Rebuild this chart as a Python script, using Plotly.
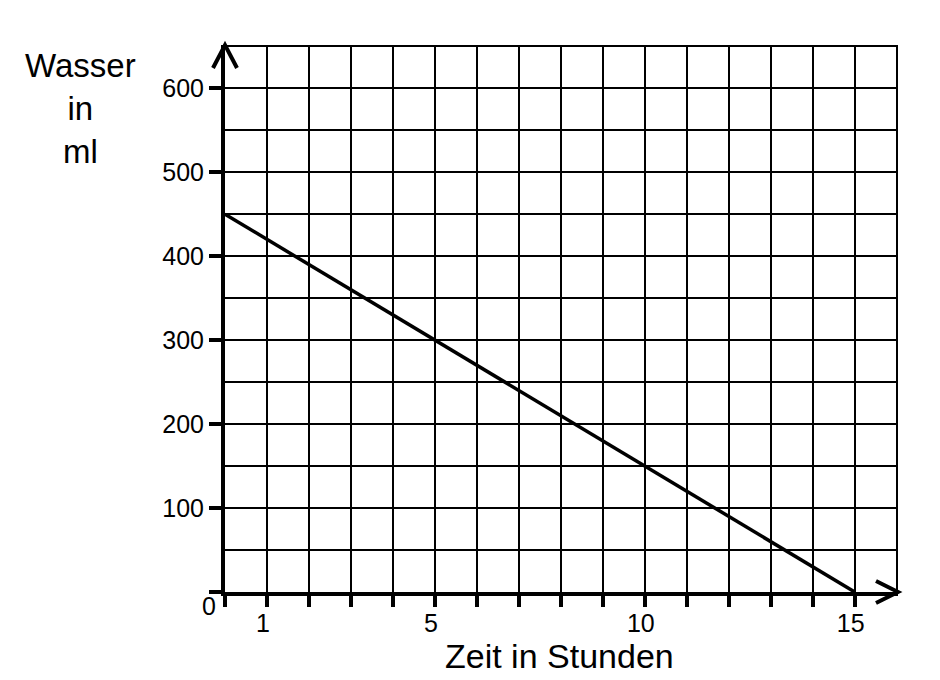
import plotly.graph_objects as go

# Werte aus dem Diagramm
zeit = [0, 5, 10, 15]
wasser = [450, 300, 150, 0]

x_ticks = list(range(0, 16))
x_labels = [str(v) if v in (1, 5, 10, 15) else "" for v in x_ticks]
y_ticks = [0, 100, 200, 300, 400, 500, 600]
y_labels = ["", "100", "200", "300", "400", "500", "600"]
grid_x = list(range(0, 17))
grid_y = list(range(0, 651, 50))

schrift = "Arial, Liberation Sans, sans-serif"

fig = go.Figure()

fig.add_trace(go.Scatter(x=zeit, y=wasser, mode="lines",
                         line=dict(color="black", width=3.5),
                         showlegend=False, hoverinfo="skip"))

fig.update_layout(
    width=940, height=680,
    margin=dict(l=225, r=42, t=45, b=88),
    plot_bgcolor="white", paper_bgcolor="white",
    font=dict(family=schrift, color="black", size=25),
    xaxis=dict(
        range=[0, 16.03], automargin=False,
        tickmode="array", tickvals=x_ticks, ticktext=x_labels,
        ticks="outside", ticklen=11, tickwidth=4, tickcolor="black",
        ticklabelshift=-4, ticklabelstandoff=-5,
        showgrid=False, zeroline=False,
        showline=True, linewidth=4, linecolor="black",
        minor=dict(tickvals=grid_x, showgrid=True, gridcolor="black", gridwidth=2, ticks=""),
    ),
    yaxis=dict(
        range=[0, 651.5], automargin=False,
        tickmode="array", tickvals=y_ticks, ticktext=y_labels,
        ticks="outside", ticklen=12, tickwidth=4, tickcolor="black",
        showgrid=False, zeroline=False,
        showline=True, linewidth=4, linecolor="black",
        minor=dict(tickvals=grid_y, showgrid=True, gridcolor="black", gridwidth=2, ticks=""),
    ),
)

# Null am Ursprung
fig.add_annotation(x=0, y=0, text="0", showarrow=False, xshift=-16, yshift=-14,
                   font=dict(size=25))

# Achsentitel
fig.add_annotation(xref="paper", yref="paper", x=-0.215, y=1.0,
                   xanchor="center", yanchor="top", showarrow=False,
                   text="Wasser<br>in<br>ml", font=dict(size=33))
fig.add_annotation(xref="paper", yref="paper", x=0.497, y=-0.117,
                   xanchor="center", yanchor="middle", showarrow=False,
                   text="Zeit in Stunden", font=dict(size=34))

# Pfeilspitzen
fig.add_shape(type="path", xref="paper", yref="paper", xsizemode="pixel", ysizemode="pixel",
              xanchor=0, yanchor=1, path="M -12,-23 L 0,0 L 12,-23",
              line=dict(color="black", width=4))
fig.add_shape(type="path", xref="paper", yref="paper", xsizemode="pixel", ysizemode="pixel",
              xanchor=1, yanchor=0, path="M -22,11 L 0,0 L -22,-11",
              line=dict(color="black", width=4))

fig.write_html("out.html", config={"displayModeBar": False},
               post_script="document.body.style.margin='0';")
